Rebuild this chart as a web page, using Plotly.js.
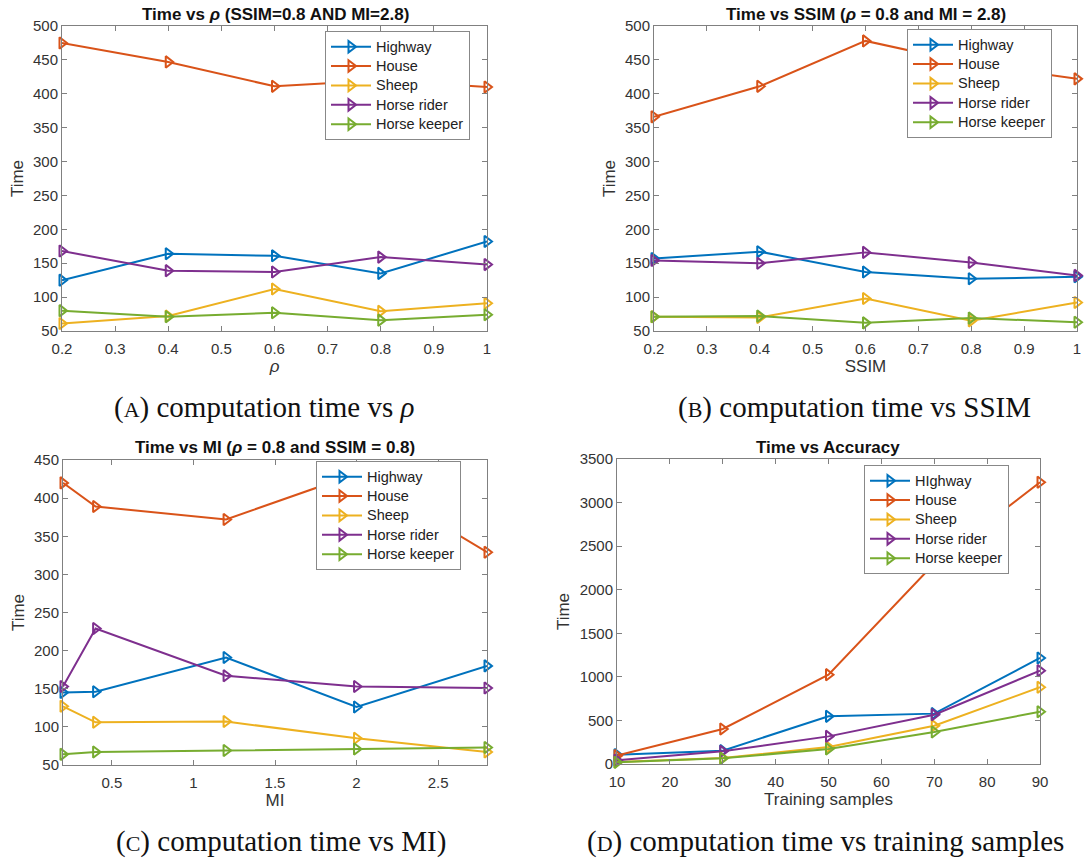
<!DOCTYPE html>
<html>
<head>
<meta charset="utf-8">
<script src="https://cdn.plot.ly/plotly-3.0.1.min.js"></script>
<style>html,body{margin:0;padding:0;background:#fff;}#chart{width:1084px;height:862px;}</style>
</head>
<body>
<div id="chart"></div>
<script>
// ---- data ----
const seriesNames = ["Highway", "House", "Sheep", "Horse rider", "Horse keeper"];
const seriesNamesD = ["HIghway", "House", "Sheep", "Horse rider", "Horse keeper"];
const colors = ["#0072BD", "#D95319", "#EDB120", "#7E2F8E", "#77AC30"];

// Panel A: Time vs rho
const rhoX = [0.2, 0.4, 0.6, 0.8, 1.0];
const aHighway = [125, 164, 161, 135, 182];
const aHouse = [475, 447, 411, 420, 410];
const aSheep = [61, 72, 112, 79, 91];
const aRider = [168, 139, 137, 159, 148];
const aKeeper = [80, 71, 77, 66, 74];

// Panel B: Time vs SSIM
const ssimX = [0.2, 0.4, 0.6, 0.8, 1.0];
const bHighway = [157, 167, 137, 127, 130];
const bHouse = [366, 411, 478, 444, 422];
const bSheep = [71, 70, 98, 65, 92];
const bRider = [154, 150, 166, 151, 132];
const bKeeper = [71, 72, 62, 69, 63];

// Panel C: Time vs MI
const miX = [0.2, 0.4, 1.2, 2.0, 2.8];
const cHighway = [145, 146, 191, 126, 180];
const cHouse = [420, 389, 372, 432, 329];
const cSheep = [127, 106, 107, 85, 67];
const cRider = [153, 229, 167, 153, 151];
const cKeeper = [64, 67, 69, 71, 73];

// Panel D: Time vs training samples
const trainX = [10, 30, 50, 70, 90];
const dHighway = [107, 153, 547, 578, 1217];
const dHouse = [96, 402, 1025, 2300, 3233];
const dSheep = [23, 69, 195, 440, 880];
const dRider = [42, 145, 317, 566, 1071];
const dKeeper = [19, 65, 172, 367, 600];

// tick labels
const tickAB = [0.2, 0.3, 0.4, 0.5, 0.6, 0.7, 0.8, 0.9, 1];
const tickABText = ["0.2", "0.3", "0.4", "0.5", "0.6", "0.7", "0.8", "0.9", "1"];
const tickC = [0.5, 1, 1.5, 2, 2.5];
const tickCText = ["0.5", "1", "1.5", "2", "2.5"];
const tickD = [10, 20, 30, 40, 50, 60, 70, 80, 90];

// ---- build ----
const panels = [
  {x: rhoX, ys: [aHighway, aHouse, aSheep, aRider, aKeeper], names: seriesNames, xa: "x", ya: "y", lg: "legend"},
  {x: ssimX, ys: [bHighway, bHouse, bSheep, bRider, bKeeper], names: seriesNames, xa: "x2", ya: "y2", lg: "legend2"},
  {x: miX, ys: [cHighway, cHouse, cSheep, cRider, cKeeper], names: seriesNames, xa: "x3", ya: "y3", lg: "legend3"},
  {x: trainX, ys: [dHighway, dHouse, dSheep, dRider, dKeeper], names: seriesNamesD, xa: "x4", ya: "y4", lg: "legend4"}
];
const legendLabel = s => "<span style='font-size:14.5px'>" + s + "</span>";
const traces = [];
panels.forEach(p => {
  p.ys.forEach((y, i) => {
    traces.push({
      type: "scatter", mode: "lines+markers", x: p.x, y: y, name: legendLabel(p.names[i]),
      xaxis: p.xa, yaxis: p.ya, legend: p.lg, cliponaxis: false,
      line: {color: colors[i], width: 2},
      marker: {symbol: "triangle-right-open", size: 10, color: colors[i], line: {width: 2, color: colors[i]}}
    });
  });
});

const W = 1084, H = 862;
const fx = (a, b) => [a / W, b / W];
const fy = (top, bot) => [1 - bot / H, 1 - top / H];
const SANS = "Liberation Sans, Arial, sans-serif";
const tickFont = {family: SANS, size: 15, color: "#333"};
const axBase = {
  showline: true, mirror: "ticks", linecolor: "#808080", linewidth: 1,
  ticks: "inside", ticklen: 5, tickcolor: "#808080", showgrid: false, zeroline: false,
  tickfont: tickFont, fixedrange: true
};
const titleFont = {family: SANS, size: 17, color: "#333"};

function xaxis(domain, range, tickvals, ticktext, title, anchor) {
  return Object.assign({}, axBase, {domain: domain, range: range, tickmode: "array", tickvals: tickvals, ticktext: ticktext,
    ticklabelstandoff: 4, title: {text: title, font: titleFont, standoff: 4}, anchor: anchor});
}
function yaxis(domain, range, dtick, anchor) {
  return Object.assign({}, axBase, {domain: domain, range: range, tick0: range[0], dtick: dtick,
    title: {text: "Time", font: titleFont, standoff: 5}, anchor: anchor});
}
const legBase = {bgcolor: "#fff", bordercolor: "#888", borderwidth: 1,
  font: {family: SANS, size: 12.6, color: "#222"},
  xanchor: "left", yanchor: "top", tracegroupgap: 0, itemwidth: 40};

const layout = {
  width: W, height: H, margin: {l: 0, r: 0, t: 0, b: 0},
  paper_bgcolor: "#fff", plot_bgcolor: "#fff", showlegend: true,
  xaxis: xaxis(fx(62, 487), [0.2, 1], tickAB, tickABText, "<i>ρ</i>", "y"),
  yaxis: yaxis(fy(26, 331), [50, 500], 50, "x"),
  xaxis2: xaxis(fx(654, 1077), [0.2, 1], tickAB, tickABText, "SSIM", "y2"),
  yaxis2: yaxis(fy(26, 331), [50, 500], 50, "x2"),
  xaxis3: xaxis(fx(63, 487), [0.2, 2.8], tickC, tickCText, "MI", "y3"),
  yaxis3: yaxis(fy(460, 765), [50, 450], 50, "x3"),
  xaxis4: xaxis(fx(617, 1040), [10, 90], tickD, tickD.map(String), "Training samples", "y4"),
  yaxis4: yaxis(fy(459, 764), [0, 3500], 500, "x4"),
  legend: Object.assign({}, legBase, {x: 325 / W, y: 1 - 31 / H}),
  legend2: Object.assign({}, legBase, {x: 907 / W, y: 1 - 29 / H}),
  legend3: Object.assign({}, legBase, {x: 316 / W, y: 1 - 461 / H}),
  legend4: Object.assign({}, legBase, {x: 864 / W, y: 1 - 465 / H}),
  annotations: []
};

const titleTxt = [
  {t: "<b>Time vs <i>ρ</i> (SSIM=0.8 AND MI=2.8)</b>", cx: 275, cy: 14},
  {t: "<b>Time vs SSIM (<i>ρ</i> = 0.8 and MI = 2.8)</b>", cx: 866, cy: 14},
  {t: "<b>Time vs MI (<i>ρ</i> = 0.8 and SSIM = 0.8)</b>", cx: 275, cy: 447},
  {t: "<b>Time vs Accuracy</b>", cx: 828, cy: 447}
];
titleTxt.forEach(a => layout.annotations.push({
  text: a.t, xref: "paper", yref: "paper", x: a.cx / W, y: 1 - a.cy / H, showarrow: false,
  xanchor: "center", yanchor: "middle", font: {family: SANS, size: 17, color: "#111"}
}));

const sc = s => "<span style='font-size:22px'>" + s + "</span>";
const captions = [
  {t: "(" + sc("A") + ") computation time vs <i>ρ</i>", cx: 264, cy: 408},
  {t: "(" + sc("B") + ") computation time vs SSIM", cx: 854, cy: 408},
  {t: "(" + sc("C") + ") computation time vs MI)", cx: 281, cy: 841},
  {t: "(" + sc("D") + ") computation time vs training samples", cx: 825, cy: 841}
];
captions.forEach(a => layout.annotations.push({
  text: a.t, xref: "paper", yref: "paper", x: a.cx / W, y: 1 - a.cy / H, showarrow: false,
  xanchor: "center", yanchor: "middle", font: {family: "Liberation Serif, Times New Roman, serif", size: 29, color: "#111"}
}));

Plotly.newPlot("chart", traces, layout, {displayModeBar: false, staticPlot: true});
</script>
</body>
</html>
